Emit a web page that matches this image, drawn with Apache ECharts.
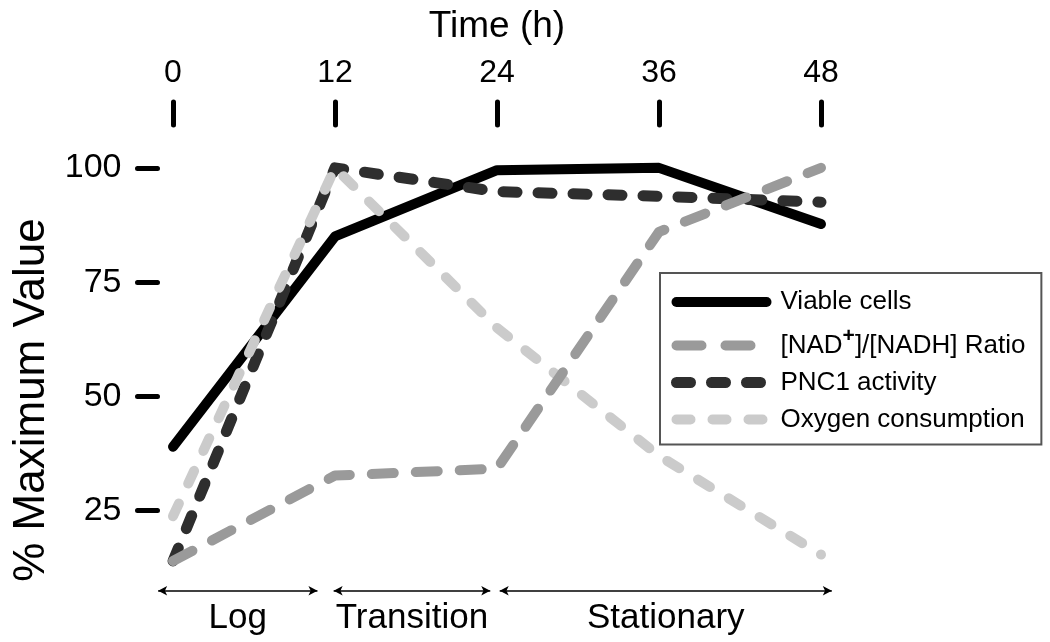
<!DOCTYPE html>
<html>
<head>
<meta charset="utf-8">
<script src="https://cdn.jsdelivr.net/npm/echarts@6/dist/echarts.min.js"></script>
<style>html,body{margin:0;padding:0;background:#fff}#chart{width:1050px;height:642px}</style>
</head>
<body>
<div id="chart"></div>
<script>
const hours = [0, 12, 24, 36, 48];
const viableCells = [39, 85, 99.5, 100, 87.7];
const nadRatio = [14, 32.7, 34.2, 86, 100];
const pnc1Activity = [14, 100, 94.8, 93.8, 92.5];
const oxygenConsumption = [23.8, 100, 65, 37, 15.4];
const xTickValues = [0, 12, 24, 36, 48];
const yTickValues = [25, 50, 75, 100];
const seriesNames = ['Viable cells', '[NAD+]/[NADH] Ratio', 'PNC1 activity', 'Oxygen consumption'];
const phaseNames = ['Log', 'Transition', 'Stationary'];
const phaseStart = [-1.1, 11.9, 24.2];
const phaseEnd = [10.7, 23.5, 48.8];

const FONT = '"Liberation Sans", Arial, sans-serif';
const pairs = vals => hours.map((h, i) => [h, vals[i]]);

const styles = {
  'Viable cells': { color: '#000', width: 10, type: 'solid' },
  '[NAD+]/[NADH] Ratio': { color: '#9a9a9a', width: 10, type: [22, 22] },
  'PNC1 activity': { color: '#2e2e2e', width: 11, type: [14, 21] },
  'Oxygen consumption': { color: '#cbcbcb', width: 10, type: [14, 22] }
};
const lineStyleOf = n => Object.assign({ cap: 'round', join: 'round' }, styles[n]);
const legendLineStyleOf = n => n === seriesNames[1]
  ? Object.assign(lineStyleOf(n), { type: [25, 24] })
  : lineStyleOf(n);

const chart = echarts.init(document.getElementById('chart'));
chart.setOption({
  animation: false,
  backgroundColor: '#fff',
  textStyle: { fontFamily: FONT, color: '#000' },
  grid: { left: 146, right: 202, top: 145, bottom: 17 },
  xAxis: {
    type: 'value', position: 'top', min: -2, max: 50, offset: 20,
    axisLine: { show: false, onZero: false },
    axisTick: { show: true, length: 23, customValues: xTickValues,
      lineStyle: { width: 5, color: '#000', cap: 'round' } },
    axisLabel: { customValues: xTickValues, fontSize: 32, margin: 36, color: '#000', fontFamily: FONT },
    splitLine: { show: false },
    name: 'Time (h)', nameLocation: 'middle', nameGap: 80,
    nameTextStyle: { fontSize: 37, color: '#000', fontFamily: FONT }
  },
  yAxis: {
    type: 'value', min: 0, max: 105, offset: -11.5,
    axisLine: { show: false, onZero: false },
    axisTick: { show: true, length: 20, customValues: yTickValues,
      lineStyle: { width: 5, color: '#000', cap: 'round' } },
    axisLabel: { customValues: yTickValues, fontSize: 34, margin: 36, color: '#000', fontFamily: FONT },
    splitLine: { show: false },
    name: '% Maximum Value', nameLocation: 'middle', nameGap: 92, nameRotate: 90,
    nameTextStyle: { fontSize: 44, color: '#000', fontFamily: FONT, padding: [0, 30, 0, 0] }
  },
  legend: {
    orient: 'vertical', left: 660, top: 273,
    data: seriesNames.map(n => ({ name: n, lineStyle: legendLineStyleOf(n), itemStyle: { opacity: 0 } })),
    itemWidth: 90, itemHeight: 14, itemGap: 11,
    padding: [16, 16, 12, 11],
    borderColor: '#555', borderWidth: 2,
    selectedMode: false,
    itemStyle: { opacity: 0 },
    formatter: name => name === seriesNames[1] ? '[NAD{sup|+}]/[NADH] Ratio' : name,
    textStyle: { fontSize: 26, color: '#000', fontFamily: FONT, padding: [0, 0, 0, 9],
      rich: { sup: { fontSize: 21, fontWeight: 'bold', color: '#000', fontFamily: FONT, padding: [0, 0, 18, 0] } } }
  },
  series: [
    {
      name: seriesNames[0], type: 'line', data: pairs(viableCells), symbol: 'none', z: 1, clip: false,
      lineStyle: lineStyleOf(seriesNames[0]),
      itemStyle: { color: '#000' },
      markLine: {
        silent: true, symbol: ['arrow', 'arrow'], symbolSize: [7, 9],
        emphasis: { disabled: true },
        lineStyle: { color: '#000', width: 1.5, type: 'solid' },
        label: { show: true, position: 'insideMiddleBottom', formatter: '{b}', fontSize: 35,
          color: '#000', fontFamily: FONT, distance: 10 },
        data: phaseNames.map((p, i) => [{ coord: [phaseStart[i], 7.5], name: p }, { coord: [phaseEnd[i], 7.5] }])
      }
    },
    {
      name: seriesNames[2], type: 'line', data: pairs(pnc1Activity), symbol: 'none', z: 2,
      lineStyle: lineStyleOf(seriesNames[2]),
      itemStyle: { color: '#2e2e2e' }
    },
    {
      name: seriesNames[3], type: 'line', data: pairs(oxygenConsumption), symbol: 'none', z: 3,
      lineStyle: lineStyleOf(seriesNames[3]),
      itemStyle: { color: '#cbcbcb' }
    },
    {
      name: seriesNames[1], type: 'line', data: pairs(nadRatio), symbol: 'none', z: 4,
      lineStyle: lineStyleOf(seriesNames[1]),
      itemStyle: { color: '#9a9a9a' }
    }
  ]
});
</script>
</body>
</html>
